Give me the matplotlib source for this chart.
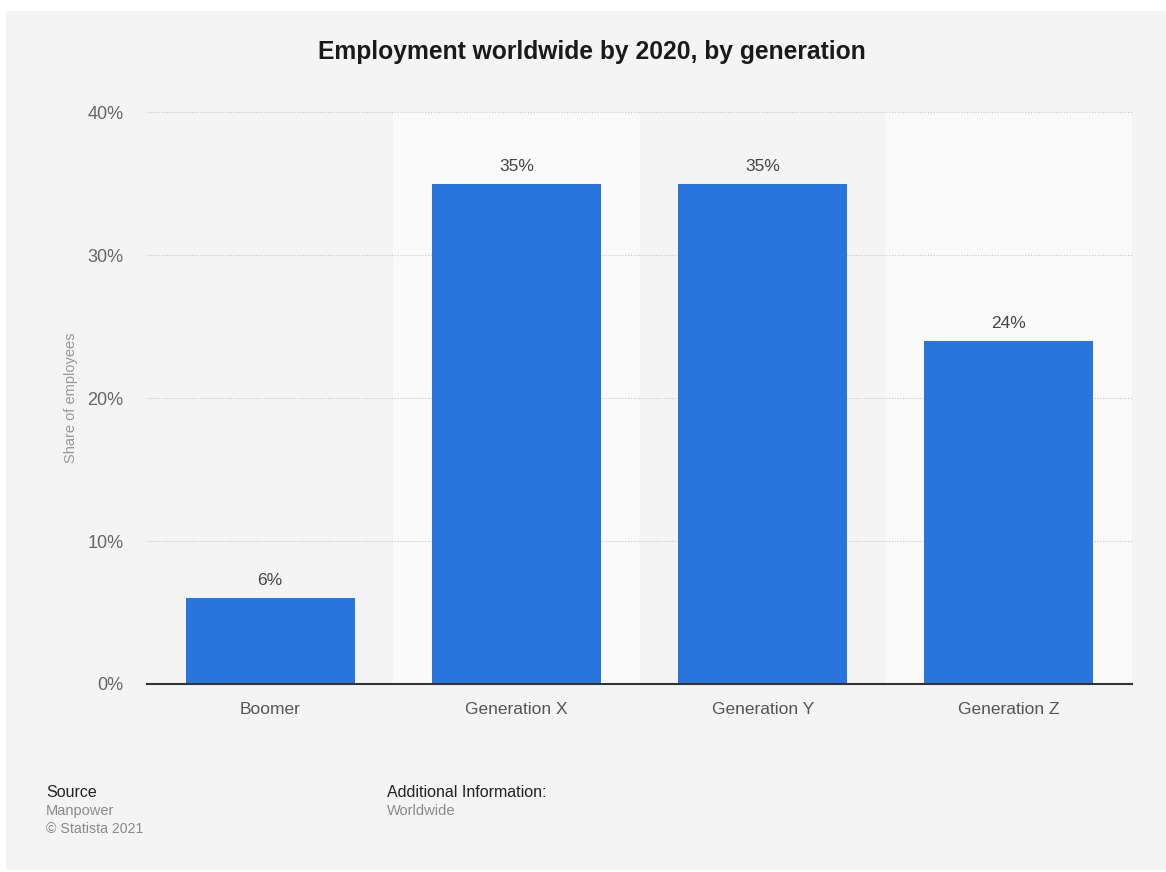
import matplotlib
matplotlib.use("Agg")
import matplotlib.pyplot as plt
from matplotlib.patches import Rectangle

plt.rcParams['font.family'] = ['Liberation Sans', 'DejaVu Sans']

categories = ["Boomer", "Generation X", "Generation Y", "Generation Z"]
values = [6, 35, 35, 24]
yticks = [0, 10, 20, 30, 40]

W, H = 1166, 872
fig = plt.figure(figsize=(W / 100, H / 100), dpi=100)
fig.patch.set_facecolor("white")
fig.patches.append(Rectangle((6 / W, 1 - 870 / H), 1 - 6 / W, (870 - 11) / H,
                             transform=fig.transFigure, facecolor="#f4f4f4",
                             edgecolor="none", zorder=-10))

ax = fig.add_axes([147 / W, 1 - 684 / H, (1132 - 147) / W, (684 - 112) / H])
ax.set_facecolor("none")
ax.set_xlim(-0.5, len(categories) - 0.5)
ax.set_ylim(0, 40)

# alternate column shading
for i in range(len(categories)):
    if i % 2 == 1:
        ax.axvspan(i - 0.5, i + 0.5, color="#fafafa", zorder=0, lw=0)

ax.set_yticks(yticks)
ax.set_yticklabels([f"{t}%" for t in yticks])
ax.yaxis.grid(True, linestyle=(0, (1, 1.5)), color="#c8c8c8", linewidth=0.8, zorder=1)
ax.set_axisbelow(True)

x = list(range(len(categories)))
bars = ax.bar(x, values, width=0.686, color="#2875dd", zorder=3)
for xi, v in zip(x, values):
    ax.annotate(f"{v}%", (xi, v), xytext=(0, 7), textcoords="offset points",
                ha="center", va="bottom", fontsize=12.5, color="#444444")

ax.set_xticks(x)
ax.set_xticklabels(categories, fontsize=12.5, color="#555555")
ax.tick_params(axis="x", length=0, pad=13)
ax.tick_params(axis="y", length=0, pad=17, labelsize=13, labelcolor="#666666")

for s in ["top", "right", "left"]:
    ax.spines[s].set_visible(False)
ax.spines["bottom"].set_color("#333333")
ax.spines["bottom"].set_linewidth(1.5)
ax.spines["bottom"].set_zorder(4)

ax.set_ylabel("Share of employees", fontsize=10.5, color="#999999")
ax.yaxis.set_label_coords((78 - 147) / 985, 0.5)

fig.text(592 / W, 1 - 52 / H, "Employment worldwide by 2020, by generation",
         ha="center", va="center", fontsize=17.7, fontweight="bold", color="#1a1a1a")

fig.text(46 / W, 1 - 792 / H, "Source", ha="left", va="center", fontsize=11.5, color="#222222")
fig.text(46 / W, 1 - 811 / H, "Manpower", ha="left", va="center", fontsize=10.5, color="#8a8a8a")
fig.text(46 / W, 1 - 829 / H, "© Statista 2021", ha="left", va="center", fontsize=10.2, color="#8a8a8a")
fig.text(387 / W, 1 - 792 / H, "Additional Information:", ha="left", va="center", fontsize=11.5, color="#222222")
fig.text(387 / W, 1 - 811 / H, "Worldwide", ha="left", va="center", fontsize=10.5, color="#8a8a8a")

fig.savefig("out.png", dpi=100, facecolor=fig.get_facecolor())
